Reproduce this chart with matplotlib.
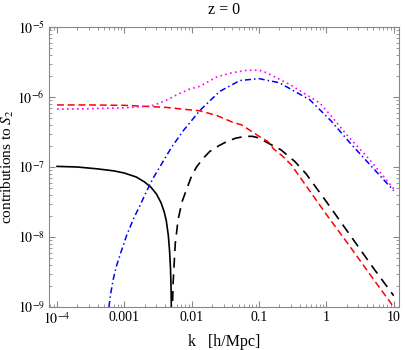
import numpy as np
import matplotlib
matplotlib.use("Agg")
import matplotlib.pyplot as plt
from matplotlib.ticker import LogLocator, FixedLocator, FixedFormatter, NullFormatter

plt.rcParams['font.family'] = ['Liberation Serif', 'DejaVu Serif']
plt.rcParams['mathtext.fontset'] = 'stix'

# black solid: negative part (absolute value), drops to zero near k ~ 0.005
k_neg = [1e-4, 2e-4, 4e-4, 7e-4, 1e-3, 1.5e-3, 2e-3, 2.5e-3, 3e-3, 3.5e-3,
         3.9e-3, 4.2e-3, 4.5e-3, 4.7e-3, 4.85e-3, 4.95e-3, 5.0e-3, 5.03e-3]
s_neg = [1.02e-7, 1.0e-7, 0.94e-7, 0.88e-7, 0.82e-7, 0.72e-7, 0.61e-7, 0.51e-7,
         0.41e-7, 0.31e-7, 0.23e-7, 1.7e-8, 1.05e-8, 6.2e-9, 3.5e-9, 1.7e-9,
         8e-10, 1e-11]

# black dashed: positive part
k_pos = [5.03e-3, 5.1e-3, 5.3e-3, 5.7e-3, 6.3e-3, 7.2e-3, 8.4e-3, 0.01, 0.0118,
         0.015, 0.0186, 0.025, 0.033, 0.045, 0.062, 0.08, 0.1, 0.13, 0.21, 0.34,
         0.5, 1.0, 2.0, 5.0, 10.0]
s_pos = [1e-11, 6e-10, 2.2e-9, 8e-9, 1.8e-8, 3.2e-8, 4.8e-8, 7.5e-8, 1.0e-7,
         1.35e-7, 1.67e-7, 2.0e-7, 2.3e-7, 2.58e-7, 2.74e-7, 2.74e-7, 2.6e-7,
         2.25e-7, 1.77e-7, 1.2e-7, 8.0e-8, 3.2e-8, 1.25e-8, 3.6e-9, 1.45e-9]

# red dashed
k_red = [1e-4, 3e-4, 1e-3, 2.4e-3, 4.2e-3, 7.4e-3, 0.0132, 0.0235, 0.041, 0.055,
         0.073, 0.097, 0.136, 0.166, 0.22, 0.3, 0.5, 1.0, 2.0, 5.0, 10.0]
s_red = [7.7e-7, 7.7e-7, 7.6e-7, 7.3e-7, 7.1e-7, 6.7e-7, 6.35e-7, 5.45e-7,
         4.34e-7, 4.0e-7, 3.35e-7, 2.8e-7, 2.3e-7, 1.8e-7, 1.45e-7, 1.08e-7,
         5.4e-8, 2.1e-8, 8.5e-9, 2.5e-9, 1e-9]

# blue dash-dot
k_blue = [5.9e-4, 6.3e-4, 6.85e-4, 7.6e-4, 8.6e-4, 1.08e-3, 1.36e-3, 1.7e-3,
          2.14e-3, 2.69e-3, 3.4e-3, 5e-3, 7.5e-3, 0.0132, 0.026, 0.052, 0.1,
          0.2, 0.57, 1.19, 2.2, 4.4, 10.0]
s_blue = [1e-9, 1.6e-9, 2.5e-9, 3.8e-9, 5.5e-9, 1.05e-8, 1.8e-8, 2.8e-8, 4.5e-8,
          7.0e-8, 1.02e-7, 1.9e-7, 3.3e-7, 6.4e-7, 1.2e-6, 1.72e-6, 1.83e-6,
          1.6e-6, 9.1e-7, 4.5e-7, 2.26e-7, 1.09e-7, 4.6e-8]

# magenta dotted: total
k_mag = [1e-4, 3e-4, 1e-3, 2.4e-3, 3e-3, 4.2e-3, 6.3e-3, 9.4e-3, 0.0132, 0.024,
         0.04, 0.065, 0.1, 0.13, 0.29, 0.8, 1.19, 2.0, 4.4, 10.0]
s_mag = [6.7e-7, 6.8e-7, 7.0e-7, 7.4e-7, 7.9e-7, 9.0e-7, 1.1e-6, 1.3e-6, 1.42e-6,
         1.95e-6, 2.22e-6, 2.4e-6, 2.42e-6, 2.22e-6, 1.5e-6, 8.2e-7, 5.3e-7,
         2.9e-7, 1.27e-7, 4.9e-8]

x_ticks = [1e-4, 1e-3, 1e-2, 1e-1, 1, 10]
x_labels = ['$10^{-4}$', '0.001', '0.01', '0.1', '1', '10']
y_ticks = [1e-9, 1e-8, 1e-7, 1e-6, 1e-5]
y_labels = ['$10^{-9}$', '$10^{-8}$', '$10^{-7}$', '$10^{-6}$', '$10^{-5}$']

fig = plt.figure(figsize=(4.05, 3.5), dpi=100)
ax = fig.add_axes([49/405, 43/350, 350/405, 280/350])

ax.plot(k_neg, s_neg, color='black', lw=1.2)
ax.plot(k_pos, s_pos, color='black', lw=1.2, dashes=(6, 4))
ax.plot(k_red, s_red, color='#ff0000', lw=1.1, dashes=(4.5, 2.5))
ax.plot(k_blue, s_blue, color='#0000ff', lw=1.1, dashes=(4, 2, 1, 2))
ax.plot(k_mag, s_mag, color='#ff00ff', lw=1.2, dashes=(1, 2))

ax.set_xscale('log')
ax.set_yscale('log')
ax.set_xlim(7.6e-5, 12.0)
ax.set_ylim(1e-9, 1e-5)

ax.xaxis.set_major_locator(FixedLocator(x_ticks))
ax.xaxis.set_major_formatter(FixedFormatter(x_labels))
ax.yaxis.set_major_locator(FixedLocator(y_ticks))
ax.yaxis.set_major_formatter(FixedFormatter(y_labels))
for axis in (ax.xaxis, ax.yaxis):
    axis.set_minor_locator(LogLocator(base=10, subs=np.arange(2, 10), numticks=20))
    axis.set_minor_formatter(NullFormatter())

frame = '#888888'
for sp in ax.spines.values():
    sp.set_color(frame)
    sp.set_linewidth(0.8)
ax.tick_params(which='both', direction='in', top=True, right=True,
               color=frame, labelsize=10, pad=3)
ax.tick_params(which='major', length=4, width=0.8)
ax.tick_params(which='minor', length=2, width=0.6)

ax.set_xlabel('k   [h/Mpc]', fontsize=11.5, labelpad=5)
ax.set_ylabel('contributions to $S_2$', fontsize=11)
ax.yaxis.set_label_coords(-0.093, 0.5)
ax.set_title('z = 0', fontsize=11.5, pad=9)

fig.savefig('out.png', dpi=100)
